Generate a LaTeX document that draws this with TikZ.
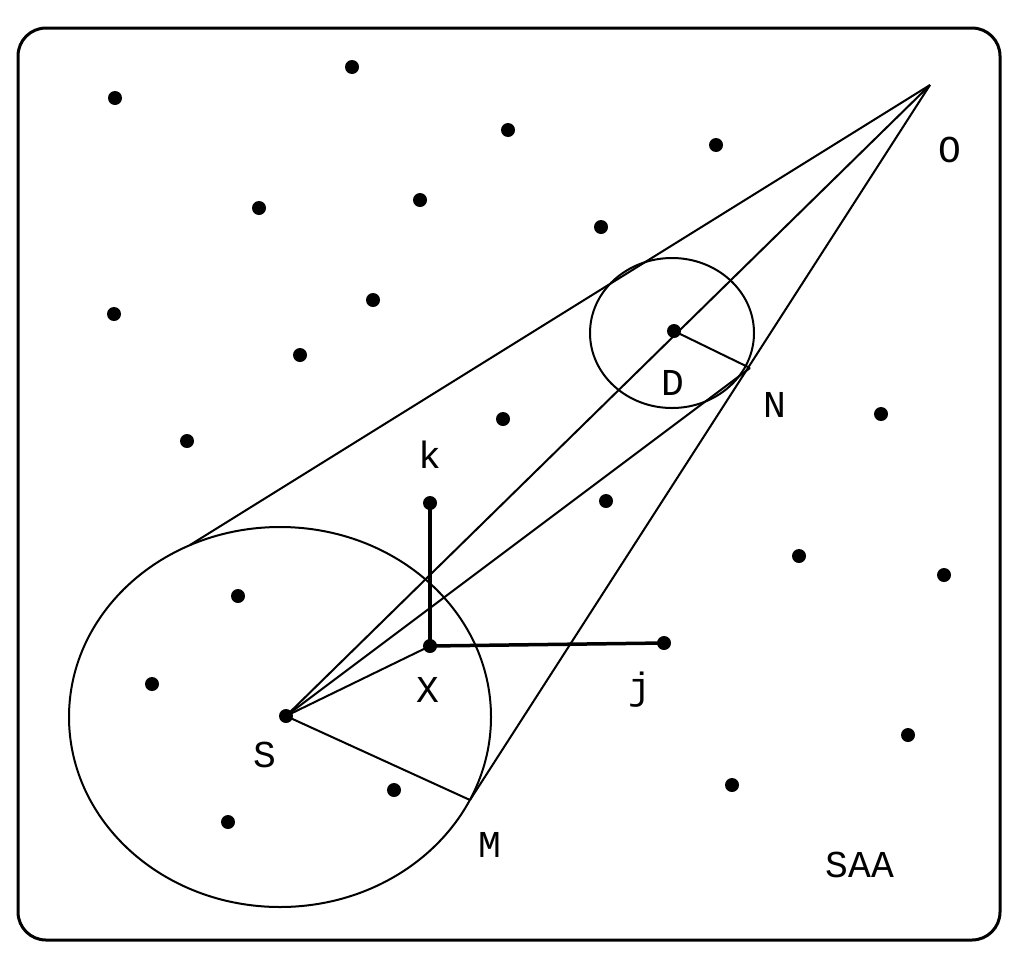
\documentclass[tikz,border=0pt]{standalone}
\usepackage{fontspec}
\setmonofont{Liberation Mono}
\begin{document}
\begin{tikzpicture}[x=1pt,y=-1pt,
  dot/.style={circle,fill=black,inner sep=0pt,minimum size=14pt},
  lbl/.style={font=\ttfamily\fontsize{38}{38}\selectfont},
  thin line/.style={line width=2pt},
  axis/.style={line width=3.5pt}]
\useasboundingbox (0,0) rectangle (1024,964);
\draw[line width=3pt,rounded corners=28pt] (18,28) rectangle (1000,940);
\foreach \p in {(115,98),(352,67),(508,130),(716,145),(259,208),(420,200),(601,227),(114,314),(373,300),(300,355),(187,441),(503,419),(881,414),(606,501),(799,556),(944,575),(238,596),(152,684),(908,735),(732,785),(394,790),(228,822)}
  \node[dot] at \p {};
\node[dot] (S) at (286,716) {};
\node[dot] (X) at (430,646) {};
\node[dot] (k) at (430,503) {};
\node[dot] (j) at (664,643) {};
\node[dot] (D) at (674,331) {};
\coordinate (O) at (930,85);
\coordinate (M) at (470,800);
\coordinate (N) at (750,368);
\coordinate (T) at (190,545);
\draw[thin line] (280,717) ellipse [x radius=211, y radius=190];
\draw[thin line] (672,333) ellipse [x radius=82, y radius=75];
\draw[thin line] (O) -- (T);
\draw[thin line] (O) -- (M);
\draw[thin line] (O) -- (S.center);
\draw[thin line] (S.center) -- (M);
\draw[thin line] (S.center) -- (N);
\draw[thin line] (S.center) -- (X.center);
\draw[thin line] (D.center) -- (N);
\draw[axis] (X.center) -- (k.center);
\draw[axis] (X.center) -- (j.center);
\node[lbl] (lO) at (950,150) {O};
\node[lbl] (lD) at (673,383) {D};
\node[lbl] (lN) at (775,405) {N};
\node[lbl] (lk) at (430,455) {k};
\node[lbl] (lX) at (428,690) {X};
\node[lbl] (lj) at (640,690) {j};
\node[lbl] (lS) at (265,755) {S};
\node[lbl] (lM) at (490,845) {M};
\node[lbl] (lSAA) at (860,865) {SAA};
\end{tikzpicture}
\end{document}
